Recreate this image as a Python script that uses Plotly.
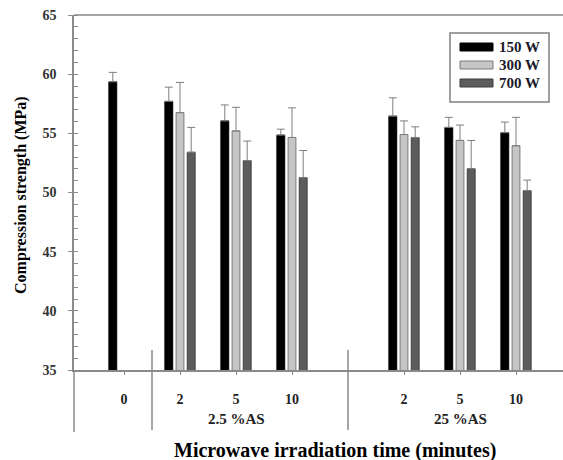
import plotly.graph_objects as go

# ---- data ----
x_pos = [0, 1, 2, 3, 5, 6, 7]
x_labels = ["0", "2", "5", "10", "2", "5", "10"]
group_labels = ["2.5 %AS", "25 %AS"]
group_pos = [2, 6]
separators = [0.5, 4]
series_names = ["150 W", "300 W", "700 W"]
s150 = [59.35, 57.7, 56.05, 54.85, 56.45, 55.5, 55.05]
s150_err = [0.8, 1.2, 1.35, 0.5, 1.55, 0.85, 0.9]
s300 = [None, 56.75, 55.2, 54.65, 54.9, 54.4, 53.95]
s300_err = [None, 2.55, 2.0, 2.5, 1.15, 1.3, 2.4]
s700 = [None, 53.4, 52.7, 51.25, 54.65, 52.0, 50.15]
s700_err = [None, 2.1, 1.65, 2.3, 0.9, 2.4, 0.9]

series_vals = [s150, s300, s700]
series_errs = [s150_err, s300_err, s700_err]
fills = ["#000000", "#c6c6c6", "#5c5c5c"]
edges = ["#000000", "#7a7a7a", "#3c3c3c"]

FONT = "Liberation Serif"
AXC = "#8a8a8a"

W, H = 563, 460
L, R, T, B = 74, 0, 15, 90
PW, PH = W - L - R, H - T - B


def px(xp):
    return (xp - L) / PW


def py(yp):
    return (H - B - yp) / PH


fig = go.Figure()
for name, vals, errs, fc, ec in zip(series_names, series_vals, series_errs, fills, edges):
    fig.add_trace(go.Bar(
        x=x_pos, y=vals, name=name,
        marker=dict(color=fc, line=dict(color=ec, width=1)),
        error_y=dict(type="data", array=errs, symmetric=False,
                     arrayminus=[0] * len(errs), color="#7f7f7f",
                     thickness=1, width=4),
        showlegend=False,
    ))

shapes = []
# top frame line
shapes.append(dict(type="line", xref="paper", yref="paper", x0=0, x1=1, y0=1, y1=1,
                   line=dict(color=AXC, width=1.5)))
# y-axis extension below the axis
shapes.append(dict(type="line", xref="paper", yref="paper", x0=0, x1=0, y0=0, y1=py(432),
                   line=dict(color=AXC, width=1.5)))
# group separators
for s in separators:
    shapes.append(dict(type="line", xref="x", yref="paper", x0=s, x1=s,
                       y0=py(350), y1=py(430), line=dict(color=AXC, width=1.5)))

# custom legend
shapes.append(dict(type="rect", xref="paper", yref="paper",
                   x0=px(450), x1=px(549), y0=py(102), y1=py(33),
                   line=dict(color="#808080", width=1.5), fillcolor="white"))
annotations = []
row_y = [47, 65, 83]
for name, fc, ec, ry in zip(series_names, fills, edges, row_y):
    shapes.append(dict(type="rect", xref="paper", yref="paper",
                       x0=px(460), x1=px(493), y0=py(ry + 4), y1=py(ry - 4),
                       line=dict(color=ec, width=1), fillcolor=fc))
    annotations.append(dict(xref="paper", yref="paper", x=px(497), y=py(ry),
                            xanchor="left", yanchor="middle", showarrow=False,
                            text="<b>%s</b>" % name,
                            font=dict(family=FONT, size=15, color="#1a1a2a")))

# group labels
for g, gp in zip(group_labels, group_pos):
    annotations.append(dict(xref="x", yref="paper", x=gp, y=py(419),
                            xanchor="center", yanchor="middle", showarrow=False,
                            text="<b>%s</b>" % g,
                            font=dict(family=FONT, size=15, color="#222")))

# axis titles
annotations.append(dict(xref="paper", yref="paper", x=px(335), y=py(451),
                        xanchor="center", yanchor="middle", showarrow=False,
                        text="<b>Microwave irradiation time (minutes)</b>",
                        font=dict(family=FONT, size=20, color="#000")))
annotations.append(dict(xref="paper", yref="paper", x=px(21), y=py(195),
                        xanchor="center", yanchor="middle", showarrow=False,
                        textangle=-90,
                        text="<b>Compression strength (MPa)</b>",
                        font=dict(family=FONT, size=16, color="#000")))

fig.update_layout(
    width=W, height=H,
    margin=dict(l=L, r=R, t=T, b=B, autoexpand=False),
    paper_bgcolor="white", plot_bgcolor="white",
    barmode="group", bargap=0.4, bargroupgap=0.3,
    shapes=shapes, annotations=annotations,
    xaxis=dict(range=[(L - 124) / 56, (W - 124) / 56],
               tickvals=x_pos, ticktext=x_labels,
               ticks="outside", ticklen=3, tickcolor=AXC,
               ticklabelstandoff=12,
               tickfont=dict(family=FONT, size=14, color="#222", weight="bold"),
               showline=True, linecolor=AXC, linewidth=1.5,
               showgrid=False, zeroline=False),
    yaxis=dict(range=[35, 65], dtick=5, tick0=35,
               ticks="outside", ticklen=4, tickcolor=AXC,
               minor=dict(ticks="inside", dtick=1, ticklen=4, tickcolor=AXC),
               tickfont=dict(family=FONT, size=14, color="#333", weight="bold"),
               ticklabelstandoff=9,
               showline=True, linecolor=AXC, linewidth=1.5,
               showgrid=False, zeroline=False),
)

fig.write_html("out.html")
